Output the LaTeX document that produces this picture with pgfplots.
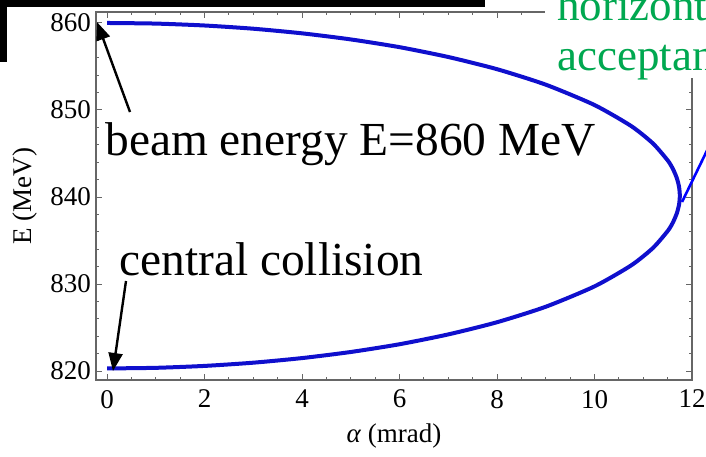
\documentclass[border=0pt]{standalone}
\usepackage{fontspec}
\setmainfont{Liberation Serif}
\usepackage{pgfplots}
\pgfplotsset{compat=1.18}
\usetikzlibrary{arrows.meta}
\definecolor{curveblue}{RGB}{15,15,205}
\definecolor{accgreen}{RGB}{0,168,80}
\begin{document}
\begin{tikzpicture}
\useasboundingbox (0pt,0pt) rectangle (353pt,-228pt);
\clip (0pt,0pt) rectangle (353pt,-228pt);
% black frame remnants
\begin{scope}[x=0.5pt,y=-0.5pt]
\fill[black] (0,0) rectangle (485,7);
\fill[black] (0,0) rectangle (7,62);
\end{scope}
\begin{axis}[
  at={(48pt,-190pt)}, anchor=south west,
  scale only axis, width=298pt, height=184pt,
  xmin=-0.226, xmax=12.0, ymin=818.97, ymax=861.26,
  xtick={0,2,...,12}, ytick={820,830,...,860},
  minor x tick num=3, minor y tick num=4,
  tick align=inside,
  major tick length=3pt, minor tick length=1.6pt,
  axis line style={black!60, line width=0.6pt},
  every tick/.style={black!60, line width=0.5pt},
  /pgf/number format/assume math mode=true,
  tick label style={font=\fontsize{13.5}{15}\selectfont, black},
  xticklabel style={yshift=-1.5pt},
  yticklabel style={xshift=1pt},
  xlabel={\textit{α} (mrad)},
  ylabel={E (MeV)},
  label style={font=\fontsize{13.5}{15}\selectfont},
  xlabel style={at={(axis description cs:0.5,-0.152)}, anchor=center},
  ylabel style={at={(axis description cs:-0.119,0.5)}, anchor=center},
  clip=false,
]
\addplot[curveblue, line width=2pt, smooth, tension=0.4] coordinates {
(0,860.00) (1,859.93) (2,859.71) (3,859.34) (4,858.81) (5,858.11) (6,857.22)
(7,856.09) (8,854.69) (9,852.91) (10,850.57) (10.754,848.15)
(11.2,846.15) (11.509,844.15) (11.615,843.15) (11.69,842.15) (11.735,841.15)
(11.75,840.15)
(11.735,839.15) (11.69,838.15) (11.615,837.15) (11.509,836.15) (11.2,834.15)
(10.754,832.15) (10,829.73) (9,827.39) (8,825.61) (7,824.21) (6,823.08) (5,822.19)
(4,821.49) (3,820.96) (2,820.59) (1,820.37) (0,820.30)
};
\end{axis}
\begin{scope}[x=0.5pt,y=-0.5pt]
\fill[white] (545,-2) rectangle (712,78);
\node[anchor=base west, inner sep=0, text=accgreen, font=\fontsize{22.5}{25}\selectfont] at (557,20) {horizontal};
\node[anchor=base west, inner sep=0, text=accgreen, font=\fontsize{22.5}{25}\selectfont] at (557,70) {acceptance};
\draw[blue, line width=1.3pt] (682,202) -- (716,132);
\draw[black, line width=1.2pt, -{Triangle[length=9pt,width=7pt]}] (130,112) -- (97,22);
\draw[black, line width=1.2pt, -{Triangle[length=9pt,width=7pt]}] (126,281) -- (113,371);
\node[anchor=base west, inner sep=0, font=\fontsize{23.7}{28}\selectfont] at (105,155) {beam energy E=860 MeV};
\node[anchor=base west, inner sep=0, font=\fontsize{23.7}{28}\selectfont] at (119,275) {central collision};
\end{scope}
\end{tikzpicture}
\end{document}
